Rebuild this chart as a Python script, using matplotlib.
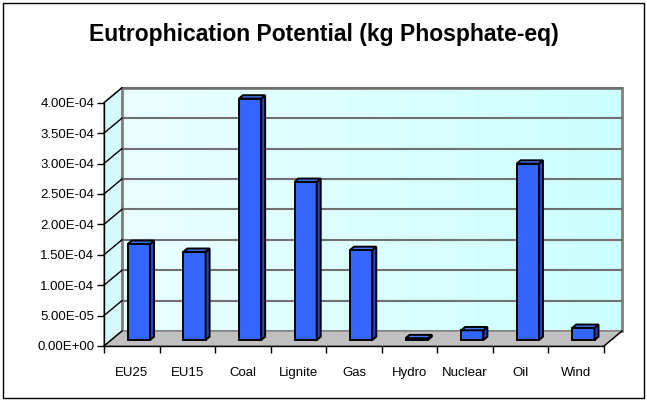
import matplotlib
matplotlib.use("Agg")
import matplotlib.pyplot as plt
import matplotlib.transforms as mtransforms
from matplotlib.patches import Rectangle, Polygon
import numpy as np

plt.rcParams["font.family"] = ["Liberation Sans", "DejaVu Sans"]

categories = ["EU25", "EU15", "Coal", "Lignite", "Gas", "Hydro", "Nuclear", "Oil", "Wind"]
values = [1.58e-4, 1.45e-4, 3.97e-4, 2.60e-4, 1.48e-4, 3.0e-6, 1.6e-5, 2.90e-4, 2.0e-5]
yticks = np.arange(0, 4.01e-4, 5e-5)
title = "Eutrophication Potential (kg Phosphate-eq)"

# pseudo 3D depth, in pixels
DX, DY = 18, 15
F0, F1 = 0.40, 0.62   # bar front / back depth fraction
BW = 0.40

W, H = 647, 401
fig = plt.figure(figsize=(W / 100, H / 100), dpi=100)
ax = fig.add_axes([104 / W, (H - 346) / H, 500 / W, (346 - 102.7) / H])
ax.set_xlim(0, 9)
ax.set_ylim(0, 4e-4)
ax.patch.set_visible(False)

ident = mtransforms.IdentityTransform()


def shift(f):
    return ax.transData + mtransforms.Affine2D().translate(DX * f, DY * f)


def pt(x, y, f):
    px, py = ax.transData.transform((x, y))
    return (px + DX * f, py + DY * f)


def poly(pts, **kw):
    p = Polygon(pts, closed=True, transform=ident, clip_on=False, **kw)
    ax.add_patch(p)
    return p


# back wall with gradient
grad = np.linspace(0, 1, 256)[None, :] * np.ones((16, 1))
cmap = matplotlib.colors.LinearSegmentedColormap.from_list("wall", ["#eaffff", "#ccffff"])
ax.imshow(grad, cmap=cmap, extent=(0, 9, 0, 4e-4), transform=shift(1),
          aspect="auto", zorder=0, clip_on=False)
ax.add_patch(Rectangle((0, 0), 9, 4e-4, transform=shift(1), fill=False,
                       ec="#808080", lw=2, clip_on=False, zorder=1))

# side wall
poly([pt(0, 0, 0), pt(0, 4e-4, 0), pt(0, 4e-4, 1), pt(0, 0, 1)],
     fc="#d6fbfb", ec="#808080", lw=1, zorder=0.5)

# floor
poly([pt(0, 0, 0), pt(9, 0, 0), pt(9, 0, 1), pt(0, 0, 1)],
     fc="#c0c0c0", ec="#808080", lw=1, zorder=1)
ax.plot(*zip(pt(9, 0, 0), pt(9, 0, 1)), transform=ident, color="black", lw=1, clip_on=False, zorder=2)

# gridlines
for v in yticks[1:]:
    ax.plot(*zip(pt(0, v, 1), pt(9, v, 1)), transform=ident, color="#707070", lw=1.5,
            clip_on=False, zorder=1)
for v in yticks:
    ax.plot(*zip(pt(0, v, 0), pt(0, v, 1)), transform=ident, color="black", lw=1,
            clip_on=False, zorder=2)

# bars
for i, v in enumerate(values):
    x0 = i + 0.5 - BW / 2
    x1 = i + 0.5 + BW / 2
    ax.bar(i + 0.5, v, width=BW, color="#3366ff", edgecolor="black", lw=1.4,
           transform=shift(F0), clip_on=False, zorder=3)
    poly([pt(x1, 0, F0), pt(x1, v, F0), pt(x1, v, F1), pt(x1, 0, F1)],
         fc="#2447c8", ec="black", lw=1.4, zorder=3)
    poly([pt(x0, v, F0), pt(x1, v, F0), pt(x1, v, F1), pt(x0, v, F1)],
         fc="#4a78ff", ec="black", lw=1.4, zorder=3.1)

# axes
for s in ["top", "right"]:
    ax.spines[s].set_visible(False)
ax.spines["left"].set_linewidth(1)
ax.spines["bottom"].set_linewidth(1)
ax.spines["left"].set_zorder(4)
ax.spines["bottom"].set_zorder(4)
ax.set_yticks(yticks)
ax.set_yticklabels([f"{v:.2E}" for v in yticks], fontsize=9.5)
ax.set_xticks(np.arange(0, 10))
ax.set_xticklabels([])
ax.set_xticks(np.arange(9) + 0.5, minor=True)
ax.set_xticklabels(categories, minor=True, fontsize=9.5)
ax.tick_params(axis="x", which="major", direction="out", length=5, width=1)
ax.tick_params(axis="x", which="minor", length=0, pad=15)
ax.tick_params(axis="y", direction="out", length=5, width=1, pad=2)

fig.text(0.5, 1 - 35 / H, title, ha="center", va="center", fontsize=16.5, fontweight="bold")
fig.patches.append(Rectangle((3 / W, 3 / H), (W - 6) / W, (H - 6) / H, transform=fig.transFigure,
                             fill=False, ec="black", lw=1))

fig.savefig("out.png", dpi=100)
